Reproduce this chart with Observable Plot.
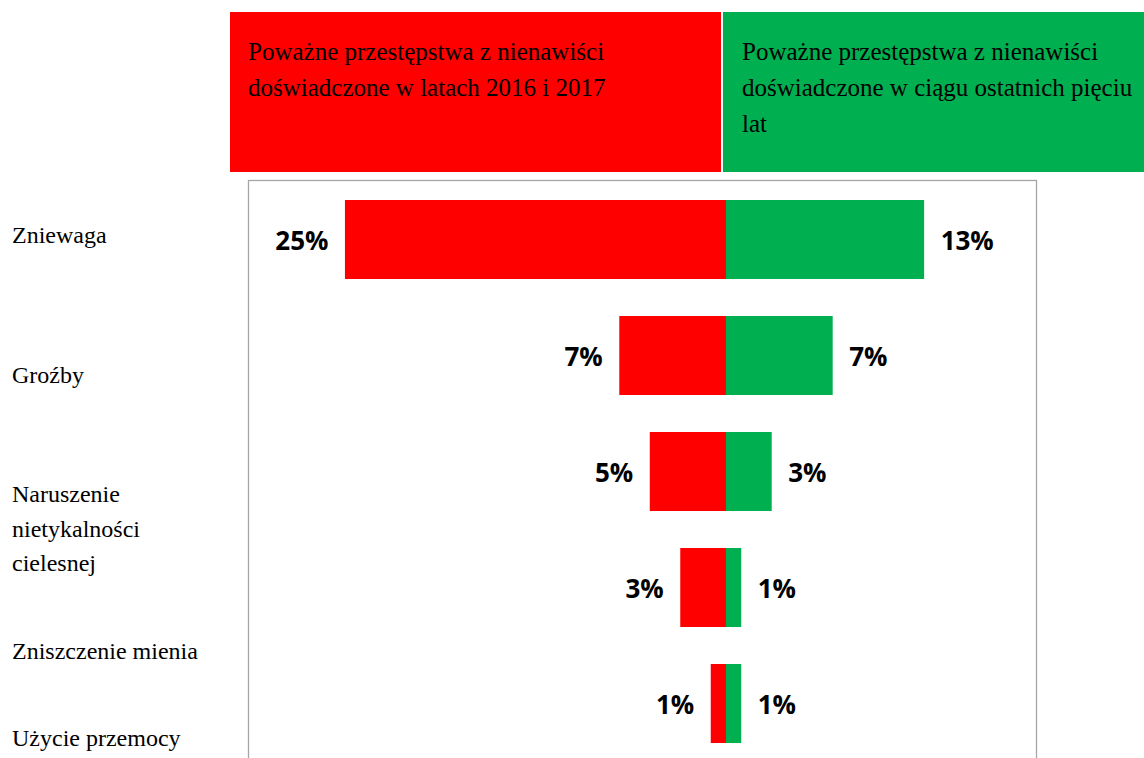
<!DOCTYPE html>
<html>
<head>
<meta charset="utf-8">
<script src="https://cdn.jsdelivr.net/npm/d3@7"></script>
<script src="https://cdn.jsdelivr.net/npm/@observablehq/plot@0.6"></script>
<style>
  html, body { margin: 0; padding: 0; background: #fff; overflow: hidden; }
  #wrap { position: relative; width: 1144px; height: 758px; overflow: hidden; }
  .head { position: absolute; top: 12px; height: 160px; box-sizing: border-box;
          font-family: "Liberation Serif", "Times New Roman", serif; font-size: 25px;
          line-height: 36px; color: #000; padding-top: 22px; white-space: nowrap; }
  #headRed { left: 230px; width: 491px; background: #ff0000; padding-left: 18px; }
  #headGreen { left: 723px; width: 421px; background: #00b050; padding-left: 19px; }
  .cat { position: absolute; left: 12px; font-family: "Liberation Serif", "Times New Roman", serif;
         font-size: 24px; line-height: 34.5px; color: #000; white-space: nowrap; }
  #chart { position: absolute; left: 0; top: 180px; }
</style>
</head>
<body>
<div id="wrap">
  <div id="headRed" class="head"></div>
  <div id="headGreen" class="head"></div>
  <div id="labels"></div>
  <div id="chart"></div>
</div>
<script>
// ---- data ----
const categories = ["Zniewaga", "Groźby", "Naruszenie nietykalności cielesnej", "Zniszczenie mienia", "Użycie przemocy"];
const categoryLines = [["Zniewaga"], ["Groźby"], ["Naruszenie", "nietykalności", "cielesnej"], ["Zniszczenie mienia"], ["Użycie przemocy"]];
const seriesNames = ["2016-2017", "5 lat"];
const seriesTitles = [
  ["Poważne przestępstwa z nienawiści", "doświadczone w latach 2016 i 2017"],
  ["Poważne przestępstwa z nienawiści", "doświadczone w ciągu ostatnich pięciu", "lat"]
];
const values2016_2017 = [25, 7, 5, 3, 1];
const valuesFiveYears = [13, 7, 3, 1, 1];
const seriesColors = ["#ff0000", "#00b050"];

// ---- header ----
document.getElementById("headRed").innerHTML = seriesTitles[0].join("<br>");
document.getElementById("headGreen").innerHTML = seriesTitles[1].join("<br>");

// ---- category labels (layout of the original table column) ----
const labelTops = [218, 358, 477, 634, 721];
const labelsDiv = document.getElementById("labels");
categoryLines.forEach((lines, i) => {
  const d = document.createElement("div");
  d.className = "cat";
  d.style.top = labelTops[i] + "px";
  d.innerHTML = lines.join("<br>");
  labelsDiv.appendChild(d);
});

// ---- rows ----
const rows = [];
categories.forEach((c, i) => {
  rows.push({category: c, series: seriesNames[0], value: values2016_2017[i], signed: -values2016_2017[i]});
  rows.push({category: c, series: seriesNames[1], value: valuesFiveYears[i], signed: valuesFiveYears[i]});
});
const left = rows.filter(d => d.series === seriesNames[0]);
const right = rows.filter(d => d.series === seriesNames[1]);

const chart = Plot.plot({
  width: 1144,
  height: 584,
  marginTop: 0,
  marginBottom: 0,
  marginLeft: 248,
  marginRight: 108,
  style: {fontFamily: "'Open Sans', sans-serif", background: "transparent", overflow: "visible"},
  x: {domain: [-31.36, 20.34], axis: null},
  y: {domain: categories, axis: null, paddingInner: 0.315, paddingOuter: 0.1575},
  color: {domain: seriesNames, range: seriesColors},
  marks: [
    Plot.frame({stroke: "#a6a6a6", strokeWidth: 1.3}),
    Plot.barX(rows, {y: "category", x1: 0, x2: "signed", fill: "series"}),
    Plot.text(left, {y: "category", x: "signed", text: d => d.value + "%", textAnchor: "end", dx: -17, dy: 2,
      fontSize: 26, fontWeight: "bold", fill: "#000"}),
    Plot.text(right, {y: "category", x: "signed", text: d => d.value + "%", textAnchor: "start", dx: 16, dy: 2,
      fontSize: 26, fontWeight: "bold", fill: "#000"})
  ]
});
document.getElementById("chart").appendChild(chart);
</script>
</body>
</html>
